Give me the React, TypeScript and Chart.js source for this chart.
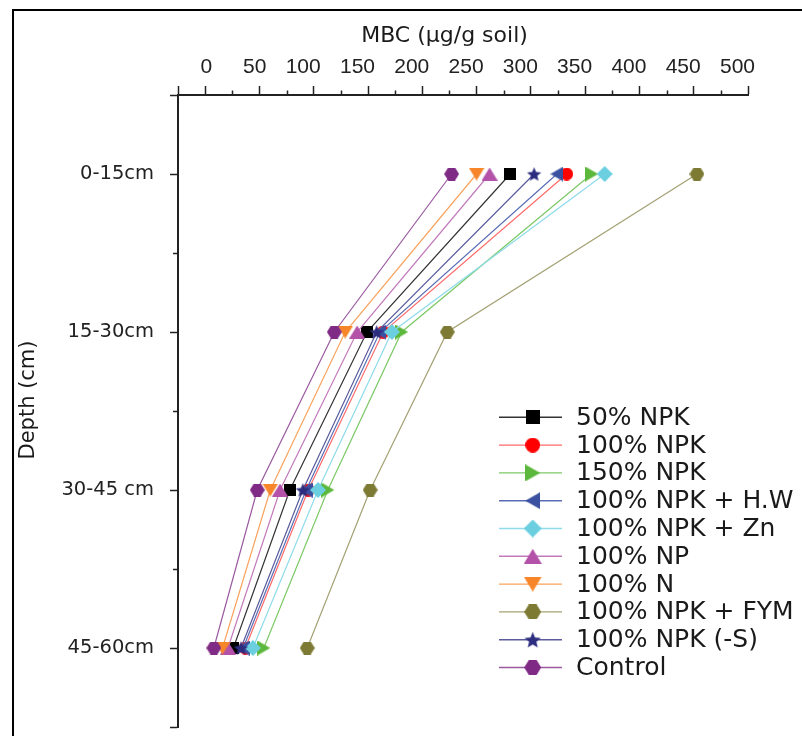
import React, { useEffect, useRef } from 'react';
import { Chart, registerables } from 'chart.js';

Chart.register(...registerables);

// ---- data ----
const depthLabels = ['0-15cm', '15-30cm', '30-45 cm', '45-60cm'];
const depthIndex = [1, 2, 3, 4];
const xTickValues = [0, 50, 100, 150, 200, 250, 300, 350, 400, 450, 500];
const xMinorTicks = [25, 75, 125, 175, 225, 275, 325, 375, 425, 475];
const yMinorTicks = [1.5, 2.5, 3.5];
const xTitle = 'MBC (µg/g soil)';
const yTitle = 'Depth (cm)';

const seriesNames = [
  '50% NPK',
  '100% NPK',
  '150% NPK',
  '100% NPK + H.W',
  '100% NPK + Zn',
  '100% NP',
  '100% N',
  '100% NPK + FYM',
  '100% NPK (-S)',
  'Control',
];

const npk50 = [281, 149, 78, 26];
const npk100 = [333, 164, 95, 37];
const npk150 = [356, 181, 113, 54];
const npkHW = [324, 161, 93, 35];
const npkZn = [368, 172, 104, 44];
const np100 = [262, 140, 69, 21];
const n100 = [250, 129, 60, 16];
const npkFYM = [453, 223, 152, 94];
const npkMinusS = [303, 158, 90, 33];
const control = [227, 119, 48, 8];

const seriesValues = [npk50, npk100, npk150, npkHW, npkZn, np100, n100, npkFYM, npkMinusS, control];

// ---- styles ----
const markerColors = ['#000000', '#ff0000', '#5cb83c', '#3a50a0', '#6ccfe0', '#b352a8', '#f7862a', '#7d7a34', '#2c2d7f', '#7f2a85'];
const lineColors = ['#333333', '#ff6a6a', '#7cc966', '#5a6db5', '#8fdbea', '#c27abb', '#f9a35e', '#a3a173', '#5a5b9c', '#9a5aa0'];
const markerShapes = ['square', 'circle', 'triRight', 'triLeft', 'diamond', 'triUp', 'triDown', 'hexagon', 'star', 'hexagon'];
const markerSizes: [number, number][] = [
  [12, 12], [13, 13], [13, 15], [13, 15], [16, 16], [16, 13], [16, 13], [15, 13], [15, 15], [15, 13],
];

function makeMarker(shape: string, color: string, w: number, h: number) {
  const c = document.createElement('canvas');
  c.width = w;
  c.height = h;
  const ctx = c.getContext('2d')!;
  ctx.fillStyle = color;
  ctx.beginPath();
  switch (shape) {
    case 'square':
      ctx.rect(0, 0, w, h);
      break;
    case 'circle':
      ctx.arc(w / 2, h / 2, Math.min(w, h) / 2, 0, Math.PI * 2);
      break;
    case 'triUp':
      ctx.moveTo(w / 2, 0); ctx.lineTo(w, h); ctx.lineTo(0, h);
      break;
    case 'triDown':
      ctx.moveTo(0, 0); ctx.lineTo(w, 0); ctx.lineTo(w / 2, h);
      break;
    case 'triLeft':
      ctx.moveTo(0, h / 2); ctx.lineTo(w, 0); ctx.lineTo(w, h);
      break;
    case 'triRight':
      ctx.moveTo(0, 0); ctx.lineTo(w, h / 2); ctx.lineTo(0, h);
      break;
    case 'diamond':
      ctx.moveTo(w / 2, 0); ctx.lineTo(w, h / 2); ctx.lineTo(w / 2, h); ctx.lineTo(0, h / 2);
      break;
    case 'hexagon':
      ctx.moveTo(0, h / 2); ctx.lineTo(w * 0.27, 0); ctx.lineTo(w * 0.73, 0);
      ctx.lineTo(w, h / 2); ctx.lineTo(w * 0.73, h); ctx.lineTo(w * 0.27, h);
      break;
    case 'star': {
      const cx = w / 2, cy = h / 2 + 0.8, ro = w / 2, ri = ro * 0.45;
      for (let k = 0; k < 10; k++) {
        const r = k % 2 === 0 ? ro : ri;
        const a = -Math.PI / 2 + (k * Math.PI) / 5;
        const px = cx + r * Math.cos(a), py = cy + r * Math.sin(a);
        if (k === 0) ctx.moveTo(px, py); else ctx.lineTo(px, py);
      }
      break;
    }
  }
  ctx.closePath();
  ctx.fill();
  return c;
}

const TICK_COLOR = '#222';

export default function App() {
  const ref = useRef<HTMLCanvasElement | null>(null);

  useEffect(() => {
    if (!ref.current) return;
    const markers = markerShapes.map((s, i) => makeMarker(s, markerColors[i], markerSizes[i][0], markerSizes[i][1]));
    const legendMarkers = markerShapes.map((s, i) =>
      makeMarker(s, markerColors[i], Math.round(markerSizes[i][0] * 1.15), Math.round(markerSizes[i][1] * 1.15))
    );

    const datasets = seriesNames.map((name, i) => ({
      label: name,
      data: seriesValues[i].map((v, j) => ({ x: v, y: depthIndex[j] })),
      showLine: true,
      borderColor: lineColors[i],
      backgroundColor: markerColors[i],
      borderWidth: 1.2,
      pointStyle: markers[i] as any,
      pointRadius: 7,
      pointHoverRadius: 7,
      order: seriesNames.length - 1 - i,
    }));

    const decor = {
      id: 'decor',
      afterDraw(chart: any) {
        const ctx = chart.ctx as CanvasRenderingContext2D;
        const xs = chart.scales.x;
        const ys = chart.scales.y;
        const area = chart.chartArea;
        ctx.save();
        // minor ticks
        ctx.strokeStyle = TICK_COLOR;
        ctx.lineWidth = 1.5;
        xMinorTicks.forEach((v) => {
          const px = Math.round(xs.getPixelForValue(v)) + 0.5;
          ctx.beginPath();
          ctx.moveTo(px, area.top);
          ctx.lineTo(px, area.top - 4.5);
          ctx.stroke();
        });
        yMinorTicks.forEach((v) => {
          const py = Math.round(ys.getPixelForValue(v)) + 0.5;
          ctx.beginPath();
          ctx.moveTo(area.left, py);
          ctx.lineTo(area.left - 5, py);
          ctx.stroke();
        });
        // axis titles
        ctx.fillStyle = '#1a1a1a';
        ctx.font = '22px "DejaVu Sans"';
        ctx.textAlign = 'center';
        ctx.textBaseline = 'alphabetic';
        ctx.fillText(xTitle, area.left + 266.5, area.top - 53.5);
        ctx.save();
        ctx.translate(area.left - 149, area.top + 305);
        ctx.rotate(-Math.PI / 2);
        ctx.font = '21px "DejaVu Sans"';
        ctx.textBaseline = 'middle';
        ctx.fillText(yTitle, 0, 0);
        ctx.restore();
        // legend
        const lx0 = 499, lx1 = 562, mx = 532.7, tx = 576, ly0 = 417.3, step = 27.8;
        ctx.font = '25px "DejaVu Sans"';
        ctx.textAlign = 'left';
        ctx.textBaseline = 'middle';
        chart.data.datasets.forEach((ds: any, i: number) => {
          const cy = ly0 + i * step;
          ctx.strokeStyle = lineColors[i];
          ctx.lineWidth = 1.4;
          ctx.beginPath();
          ctx.moveTo(lx0, cy);
          ctx.lineTo(lx1, cy);
          ctx.stroke();
          const m = legendMarkers[i];
          ctx.drawImage(m, mx - m.width / 2, cy - m.height / 2);
          ctx.fillStyle = '#1a1a1a';
          ctx.fillText(ds.label, tx, cy + 1);
        });
        ctx.restore();
      },
    };

    const chart = new Chart(ref.current, {
      type: 'scatter',
      data: { datasets },
      options: {
        responsive: false,
        animation: false,
        devicePixelRatio: 1,
        events: [],
        layout: { padding: { left: 8, top: 10, right: 54, bottom: 9 } },
        plugins: { legend: { display: false }, tooltip: { enabled: false } },
        scales: {
          x: {
            type: 'linear',
            position: 'top',
            min: -25,
            max: 500,
            afterBuildTicks: (s: any) => {
              s.ticks = [-25, ...xTickValues].map((v) => ({ value: v }));
            },
            afterFit: (s: any) => {
              s.height = 85;
              s.paddingLeft = 0;
              s.paddingRight = 0;
            },
            ticks: {
              autoSkip: false,
              maxRotation: 0,
              align: 'end',
              labelOffset: 7,
              padding: 6,
              color: TICK_COLOR,
              font: { family: '"Liberation Sans", Arial, sans-serif', size: 21 },
              callback: (v: any) => (xTickValues.includes(v) ? String(v) : ''),
            },
            grid: { drawOnChartArea: false, tickLength: 9, tickColor: TICK_COLOR, tickWidth: 1.5 },
            border: { display: true, color: TICK_COLOR, width: 2 },
          },
          y: {
            type: 'linear',
            reverse: true,
            min: 0.5,
            max: 4.5,
            afterBuildTicks: (s: any) => {
              s.ticks = [0.5, ...depthIndex, 4.5].map((v) => ({ value: v }));
            },
            afterFit: (s: any) => {
              s.width = 170;
              s.paddingTop = 0;
              s.paddingBottom = 0;
            },
            ticks: {
              autoSkip: false,
              padding: 16,
              color: TICK_COLOR,
              font: { family: '"DejaVu Sans", sans-serif', size: 19.5 },
              callback: (v: any) => {
                const k = depthIndex.indexOf(v);
                return k >= 0 ? depthLabels[k] : '';
              },
            },
            grid: { drawOnChartArea: false, tickLength: 8, tickColor: TICK_COLOR, tickWidth: 1.5 },
            border: { display: true, color: TICK_COLOR, width: 2 },
          },
        },
      } as any,
      plugins: [decor],
    });
    return () => chart.destroy();
  }, []);

  return (
    <div style={{ position: 'fixed', left: 0, top: 0, width: 802, height: 736, overflow: 'hidden', background: '#fff' }}>
      <div
        style={{
          position: 'absolute',
          left: 12,
          top: 9,
          width: 900,
          height: 900,
          borderLeft: '2px solid #000',
          borderTop: '2px solid #000',
        }}
      />
      <canvas ref={ref} width={802} height={736} style={{ position: 'absolute', left: 0, top: 0, width: 802, height: 736 }} />
    </div>
  );
}
